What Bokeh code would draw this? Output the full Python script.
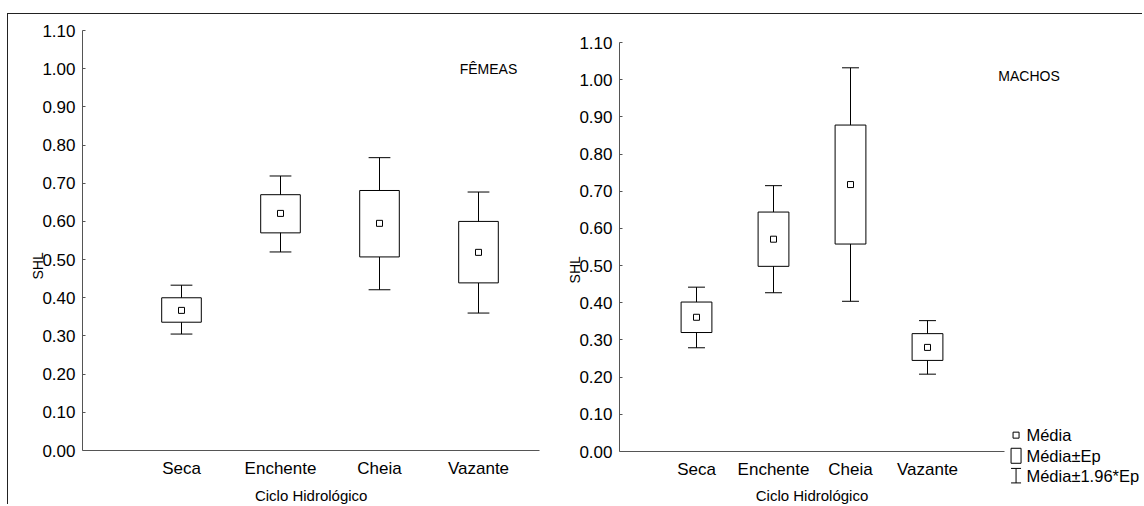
from bokeh.plotting import figure
from bokeh.models import Range1d, FixedTicker, PrintfTickFormatter, LinearAxis
from bokeh.layouts import row
from bokeh.core.properties import value
from bokeh.embed import file_html
from bokeh.resources import INLINE

# ---------------- data ----------------
categories = ["Seca", "Enchente", "Cheia", "Vazante"]
y_ticks = [0.0, 0.1, 0.2, 0.3, 0.4, 0.5, 0.6, 0.7, 0.8, 0.9, 1.0, 1.1]

# FÊMEAS
fem_mean = [0.367, 0.621, 0.595, 0.519]
fem_box_lo = [0.336, 0.570, 0.507, 0.439]
fem_box_hi = [0.400, 0.670, 0.681, 0.600]
fem_wh_lo = [0.305, 0.520, 0.421, 0.360]
fem_wh_hi = [0.433, 0.719, 0.767, 0.677]

# MACHOS
mac_mean = [0.361, 0.571, 0.718, 0.280]
mac_box_lo = [0.320, 0.498, 0.558, 0.245]
mac_box_hi = [0.402, 0.644, 0.878, 0.317]
mac_wh_lo = [0.279, 0.427, 0.404, 0.208]
mac_wh_hi = [0.442, 0.715, 1.032, 0.352]

legend_labels = ["Média", "Média±Ep", "Média±1.96*Ep"]
x_title = "Ciclo Hidrológico"
y_title = "SHL"

# ---------------- style / layout constants ----------------
FONT = "Liberation Sans"
AX = "#555555"
BOX_W = 0.4
CAP_HW = 0.11
FIG_H = 490          # figure height
TOP_B = 5            # frame starts 5px below figure top
FRAME_H = FIG_H - TOP_B
NB = "\u00a0"


def panel(width, min_left, px_unit_x, px_zero_y, px_unit_y, x_axis_end, shl_pad,
          title_off, means, blo, bhi, wlo, whi):
    """px_zero_y: pixel row (inside the figure) of y = 0."""
    frame_w = width - min_left
    x_end = frame_w / px_unit_x
    zero_in_frame = px_zero_y - TOP_B
    y_end = zero_in_frame / px_unit_y
    y_start = -(FRAME_H - zero_in_frame) / px_unit_y
    p = figure(width=width, height=FIG_H, x_range=Range1d(0, x_end),
               y_range=Range1d(y_start, y_end), output_backend="svg",
               toolbar_location=None, min_border_left=min_left, min_border_right=0,
               min_border_top=TOP_B, min_border_bottom=0)
    p.outline_line_color = None
    p.grid.visible = False
    p.background_fill_color = "white"
    p.border_fill_color = "white"

    xs = list(range(1, len(categories) + 1))

    # x axis: a line at y = 0 (its labels are drawn as text below it)
    xa = p.xaxis[0]
    xa.fixed_location = 0
    xa.bounds = (0, x_axis_end)
    xa.ticker = FixedTicker(ticks=[])
    xa.major_tick_in = 0
    xa.major_tick_out = 0
    xa.minor_tick_line_color = None
    xa.major_label_standoff = 0
    xa.axis_line_color = AX

    p.text(x=xs, y=[0] * len(xs), text=categories, text_font=value(FONT),
           text_font_size="17px", text_align="center", text_baseline="alphabetic",
           y_offset=18, text_color="black")
    p.text(x=[x_axis_end / 2], y=[0], text=[x_title], text_font=value(FONT),
           text_font_size="15px", text_align="center", text_baseline="alphabetic",
           y_offset=title_off, text_color="black")

    # y axis
    ya = p.yaxis[0]
    ya.bounds = (y_ticks[0], y_ticks[-1])
    ya.ticker = FixedTicker(ticks=y_ticks)
    ya.formatter = PrintfTickFormatter(format="%.2f")
    ya.major_tick_in = 3
    ya.major_tick_out = 0
    ya.major_tick_line_color = AX
    ya.minor_tick_line_color = None
    ya.axis_line_color = AX
    ya.major_label_text_font = FONT
    ya.major_label_text_font_size = "17px"
    ya.major_label_text_color = "black"
    ya.major_label_standoff = 7

    # second (label only) axis that carries the "SHL" title
    la = LinearAxis(ticker=FixedTicker(ticks=[]),
                    axis_line_color=None, major_tick_line_color=None,
                    minor_tick_line_color=None, major_tick_in=0, major_tick_out=0,
                    major_label_standoff=0, axis_label=y_title + NB * shl_pad,
                    axis_label_text_font=FONT, axis_label_text_font_size="14px",
                    axis_label_text_font_style="normal", axis_label_text_color="black",
                    axis_label_standoff=-6)
    p.add_layout(la, "left")

    # whiskers (mean ± 1.96*Ep)
    p.segment(x0=xs, y0=wlo, x1=xs, y1=whi, line_color="black", line_width=1)
    p.segment(x0=[x - CAP_HW for x in xs], y0=whi, x1=[x + CAP_HW for x in xs], y1=whi,
              line_color="black", line_width=1)
    p.segment(x0=[x - CAP_HW for x in xs], y0=wlo, x1=[x + CAP_HW for x in xs], y1=wlo,
              line_color="black", line_width=1)
    # boxes (mean ± Ep)
    p.vbar(x=xs, width=BOX_W, bottom=blo, top=bhi, fill_color="white",
           line_color="black", line_width=1)
    # means
    p.scatter(x=xs, y=means, marker="square", size=6, fill_color="white",
              line_color="black", line_width=1)
    return p


# left panel (FÊMEAS)
p1 = panel(555, 74, 99.0, 436, 381.8, len(categories) + 0.62, 2, 45,
           fem_mean, fem_box_lo, fem_box_hi, fem_wh_lo, fem_wh_hi)
p1.text(x=[3.81], y=[1.0], text=["FÊMEAS"], text_font=value(FONT), text_font_size="14px",
        text_baseline="middle", text_align="left", text_color="black")

# right panel (MACHOS)
p2 = panel(579, 56, 77.0, 437, 371.8, len(categories) + 1, 4, 44,
           mac_mean, mac_box_lo, mac_box_hi, mac_wh_lo, mac_wh_hi)
p2.text(x=[4.92], y=[1.009], text=["MACHOS"], text_font=value(FONT), text_font_size="14px",
        text_baseline="middle", text_align="left", text_color="black")

# legend (drawn by hand as in the original)
sym_x = 5.15
txt_x = 5.285
rows_y = [0.044, -0.0115, -0.065]
wh_half = 0.0195
p2.scatter(x=[sym_x], y=[rows_y[0]], marker="square", size=6, fill_color="white",
           line_color="black", line_width=1)
p2.rect(x=[sym_x], y=[rows_y[1]], width=10, height=15, width_units="screen",
        height_units="screen", fill_color="white", line_color="black", line_width=1)
p2.segment(x0=[sym_x], y0=[rows_y[2] - wh_half], x1=[sym_x], y1=[rows_y[2] + wh_half],
           line_color="black", line_width=1)
p2.scatter(x=[sym_x, sym_x], y=[rows_y[2] - wh_half, rows_y[2] + wh_half], marker="dash",
           size=10, line_color="black", line_width=1)
p2.text(x=[txt_x] * 3, y=rows_y, text=legend_labels, text_font=value(FONT),
        text_font_size="16.5px", text_baseline="middle", text_align="left",
        text_color="black")

layout = row(p1, p2, margin=(13, 0, 0, 7),
             styles={"border-top": "1px solid #222", "border-left": "1px solid #222"})

open("out.html", "w").write(file_html(layout, INLINE))
